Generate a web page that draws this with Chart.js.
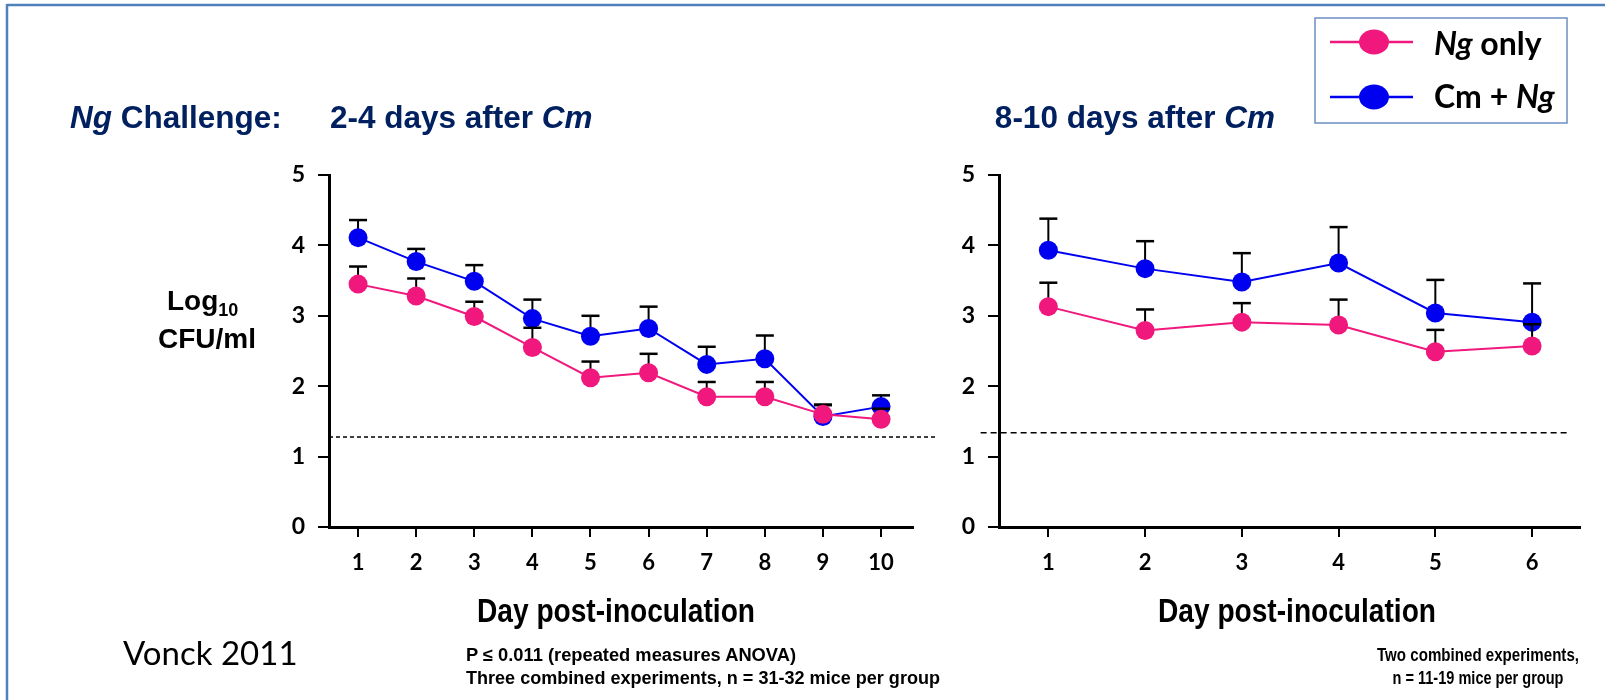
<!DOCTYPE html>
<html>
<head>
<meta charset="utf-8">
<script src="https://cdn.jsdelivr.net/npm/chart.js@4.4.1/dist/chart.umd.min.js"></script>
<style>
  html, body { margin: 0; padding: 0; background: #fff; }
  #page { position: relative; width: 1605px; height: 700px; overflow: hidden; }
  canvas { position: absolute; top: 0; }
  #chartA { left: 0; }
  #chartB { left: 960px; }
  #overlay { position: absolute; left: 0; top: 0; pointer-events: none; }
</style>
</head>
<body>
<div id="page">
  <canvas id="chartA" width="960" height="700"></canvas>
  <canvas id="chartB" width="645" height="700"></canvas>
  <svg id="overlay" width="1605" height="700" xmlns="http://www.w3.org/2000/svg">
    <!-- slide frame -->
    <line x1="7" y1="5" x2="1605" y2="5" stroke="#4f81bd" stroke-width="2.5"/>
    <line x1="7" y1="4" x2="7" y2="700" stroke="#4f81bd" stroke-width="2.5"/>

    <g font-family="'Liberation Sans', Arial, sans-serif" font-weight="bold" fill="#002060" font-size="31.5">
      <text x="70" y="128"><tspan font-style="italic">Ng</tspan> Challenge:</text>
      <text x="330" y="128">2-4 days after <tspan font-style="italic">Cm</tspan></text>
      <text x="1275" y="128" text-anchor="end">8-10 days after <tspan font-style="italic">Cm</tspan></text>
    </g>

    <g font-family="'Liberation Sans', Arial, sans-serif" font-weight="bold" fill="#000">
      <text x="167" y="310" font-size="28">Log<tspan font-size="18" dy="6">10</tspan></text>
      <text x="158" y="348" font-size="28">CFU/ml</text>
      <text x="477" y="622" font-size="34" textLength="278" lengthAdjust="spacingAndGlyphs">Day post-inoculation</text>
      <text x="1158" y="622" font-size="34" textLength="278" lengthAdjust="spacingAndGlyphs">Day post-inoculation</text>
      <text x="466" y="661" font-size="18" textLength="330" lengthAdjust="spacingAndGlyphs">P ≤ 0.011 (repeated measures ANOVA)</text>
      <text x="466" y="684" font-size="18" textLength="474" lengthAdjust="spacingAndGlyphs">Three combined experiments, n = 31-32 mice per group</text>
      <text x="1478" y="661" font-size="18" text-anchor="middle" textLength="202" lengthAdjust="spacingAndGlyphs">Two combined experiments,</text>
      <text x="1478" y="684" font-size="18" text-anchor="middle" textLength="171" lengthAdjust="spacingAndGlyphs">n = 11-19 mice per group</text>
    </g>

    <text x="123" y="665" font-family="Lato, sans-serif" font-size="33" fill="#000">Vonck 2011</text>

    <!-- legend -->
    <rect x="1315" y="18" width="252" height="105" fill="#fff" stroke="#6d8fc4" stroke-width="1.5"/>
    <line x1="1330" y1="42" x2="1413" y2="42" stroke="#f0187c" stroke-width="2.5"/>
    <ellipse cx="1374" cy="42" rx="15" ry="12.5" fill="#f0187c"/>
    <line x1="1330" y1="97" x2="1413" y2="97" stroke="#0000f0" stroke-width="2.5"/>
    <ellipse cx="1374" cy="97" rx="15" ry="12.5" fill="#0000f0"/>
    <g font-family="Lato, sans-serif" font-weight="bold" font-size="32" fill="#000">
      <text x="1434" y="55"><tspan font-style="italic">Ng</tspan> only</text>
      <text x="1434" y="108">Cm + <tspan font-style="italic">Ng</tspan></text>
    </g>
  </svg>
</div>
<script>
// 2-4 days after Cm (left panel)
const daysA = [1, 2, 3, 4, 5, 6, 7, 8, 9, 10];
const ngOnlyA = [3.45, 3.28, 2.99, 2.55, 2.12, 2.19, 1.85, 1.85, 1.60, 1.53];
const ngOnlySemA = [0.25, 0.25, 0.21, 0.28, 0.23, 0.27, 0.21, 0.21, 0.13, 0.15];
const cmNgA = [4.11, 3.77, 3.49, 2.96, 2.71, 2.82, 2.31, 2.39, 1.57, 1.71];
const cmNgSemA = [0.25, 0.18, 0.23, 0.27, 0.29, 0.31, 0.25, 0.33, 0.17, 0.16];
const limitA = 1.28;

// 8-10 days after Cm (right panel)
const daysB = [1, 2, 3, 4, 5, 6];
const ngOnlyB = [3.13, 2.79, 2.91, 2.87, 2.49, 2.57];
const ngOnlySemB = [0.34, 0.30, 0.27, 0.36, 0.31, 0.31];
const cmNgB = [3.93, 3.67, 3.48, 3.75, 3.04, 2.91];
const cmNgSemB = [0.45, 0.39, 0.41, 0.51, 0.47, 0.55];
const limitB = 1.34;

const yTicks = [0, 1, 2, 3, 4, 5];

const PINK = '#f0187c';
const BLUE = '#0000f0';

// upper SEM whiskers, drawn just before each dataset so later series sit on top
const errorBars = {
    id: 'errorBars',
    beforeDatasetDraw(chart, args) {
        const ds = chart.data.datasets[args.index];
        if (!ds.sem) return;
        const xs = chart.scales.x;
        const ys = chart.scales.y;
        const ctx = chart.ctx;
        ctx.save();
        ctx.strokeStyle = '#000';
        ds.data.forEach((p, i) => {
            const px = xs.getPixelForValue(p.x);
            const py = ys.getPixelForValue(p.y);
            const top = ys.getPixelForValue(p.y + ds.sem[i]);
            ctx.lineWidth = 2;
            ctx.beginPath();
            ctx.moveTo(px, py);
            ctx.lineTo(px, top);
            ctx.stroke();
            ctx.lineWidth = 2.5;
            ctx.beginPath();
            ctx.moveTo(px - 9, top);
            ctx.lineTo(px + 9, top);
            ctx.stroke();
        });
        ctx.restore();
    }
};

function series(days, values, sem, color) {
    return {
        data: days.map((d, i) => ({ x: d, y: values[i] })),
        sem,
        borderColor: color,
        backgroundColor: color,
        borderWidth: 2,
        pointRadius: 9.5,
        pointBorderWidth: 0,
        pointBackgroundColor: color,
        tension: 0,
        clip: false
    };
}

function limitLine(from, to, value, dash) {
    return {
        data: [{ x: from, y: value }, { x: to, y: value }],
        borderColor: '#000',
        borderWidth: 1.5,
        borderDash: dash,
        pointRadius: 0,
        clip: false
    };
}

function makeChart(id, days, ngOnly, ngOnlySem, cmNg, cmNgSem, limit, opts) {
    const tickFont = { family: 'Lato', weight: 'bold', size: 22 };
    return new Chart(document.getElementById(id), {
        type: 'line',
        data: {
            datasets: [
                series(days, ngOnly, ngOnlySem, PINK),
                series(days, cmNg, cmNgSem, BLUE),
                limitLine(opts.limitFrom, opts.limitTo, limit, opts.dash)
            ]
        },
        options: {
            responsive: false,
            animation: false,
            events: [],
            layout: { padding: opts.padding },
            plugins: { legend: { display: false }, tooltip: { enabled: false } },
            scales: {
                x: {
                    type: 'linear',
                    min: opts.xMin,
                    max: opts.xMax,
                    afterBuildTicks: s => { s.ticks = days.map(v => ({ value: v })); },
                    afterFit: s => { s.height = 80; },
                    grid: { drawOnChartArea: false, tickLength: 10, color: '#000', lineWidth: 2 },
                    border: { color: '#000', width: 3 },
                    ticks: { color: '#000', font: tickFont, padding: 13, maxRotation: 0, autoSkip: false }
                },
                y: {
                    min: 0,
                    max: 5,
                    afterBuildTicks: s => { s.ticks = yTicks.map(v => ({ value: v })); },
                    afterFit: s => { s.width = opts.yWidth; },
                    grid: { drawOnChartArea: false, tickLength: 11, color: '#000', lineWidth: 2 },
                    border: { color: '#000', width: 3 },
                    ticks: { color: '#000', font: { family: 'Lato', weight: 'bold', size: 23 }, padding: 13 }
                }
            }
        },
        plugins: [errorBars]
    });
}

makeChart('chartA', daysA, ngOnlyA, ngOnlySemA, cmNgA, cmNgSemA, limitA, {
    xMin: 0.5, xMax: 10.55,
    limitFrom: 0.5, limitTo: 10.96,
    dash: [4, 3],
    yWidth: 60,
    padding: { left: 269, top: 175, right: 47, bottom: 93 }
});

makeChart('chartB', daysB, ngOnlyB, ngOnlySemB, cmNgB, cmNgSemB, limitB, {
    xMin: 0.49, xMax: 6.49,
    limitFrom: 0.3, limitTo: 6.39,
    dash: [6, 4],
    yWidth: 39,
    padding: { left: 0, top: 175, right: 25.5, bottom: 93 }
});
</script>
</body>
</html>
